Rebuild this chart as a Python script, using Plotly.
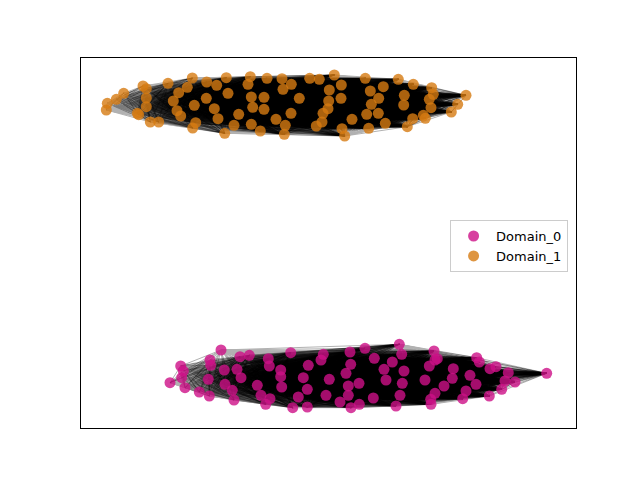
import plotly.graph_objects as go

# Node positions (x, y), per domain
domain0_x = [221, 210, 210.7, 180.7, 183.3, 181.7, 170, 185, 199.3, 209.3, 208.3, 224.3, 225, 232.3, 234,
             237, 241, 240, 249.3, 257.3, 261, 270, 265.7, 268.3, 269.3, 280.7, 280.7, 281.7, 290.7, 292.7,
             323.3, 321, 350, 350.7, 365, 374.3, 399.3, 401.7, 392.3, 384, 404, 386, 402.3, 400, 396,
             373.3, 359, 348.3, 346, 348.3, 340, 351, 359.3, 329.3, 326, 308.3, 303.3, 307.3, 298.3, 307.3,
             434, 437.3, 435, 429.3, 425, 453.3, 452.3, 444, 435, 430.7, 431, 476.7, 479.3, 490, 496,
             470, 476, 466, 462.7, 489.3, 508.3, 505, 515, 501.7, 546.7]
domain0_y = [350, 360, 365.3, 366, 371, 377.7, 382.7, 387.7, 392, 396, 379.3, 370, 384.3, 390.3, 400,
             369.3, 377.7, 356.7, 355.3, 385.3, 395.3, 398.7, 404.3, 358.7, 366, 370, 376.7, 387, 352.7, 407.7,
             354.3, 360, 352, 364.3, 348.3, 358.3, 344.3, 354.3, 362, 369.3, 371, 380, 383.3, 395.3, 406,
             398, 383.3, 386, 373.3, 395.3, 402, 407.7, 404.3, 379.3, 395.3, 365.3, 377.7, 389.3, 397, 407,
             351, 358.7, 360, 366, 380, 368.7, 378.3, 386, 393.3, 399.3, 404.3, 357.7, 362, 368.7, 366.7,
             375.3, 384.3, 391, 398.7, 396, 372.7, 381, 382, 389.3, 373.3]

domain1_x = [107.3, 106.3, 116.3, 123.7, 143, 146.3, 146.3, 146.3, 137.3, 138.7, 150.3, 158.7, 168, 178.7,
             173.3, 177, 180.7, 187.3, 192.3, 194.3, 192.7, 195.7, 206.7, 216.7, 206.3, 214.3, 218, 224.7,
             226.3, 228, 250.3, 248, 267, 282, 283, 291.3, 309.7, 319.3, 334.3, 341.3, 329.3, 341, 328.7,
             328, 323, 322, 316.3, 251.3, 264, 252.7, 264, 238.7, 234, 251.3, 260.3, 276, 285.3, 284.3,
             291, 299.3, 342, 344.7, 365.3, 398.3, 413.3, 431.7, 433.3, 429.3, 431, 466, 457.7, 451.3,
             370.3, 383.3, 378.7, 371.3, 404.3, 403.7, 366.7, 378.3, 352, 385.3, 368.7, 412.7, 423.3,
             425.3, 407.3]
domain1_y = [103.3, 110, 99.3, 93.3, 86, 88.7, 98, 106.7, 113.3, 114.7, 122, 122, 83.3, 92.7,
             101, 110.7, 116, 87.3, 78, 105.3, 128, 122.7, 82, 85.3, 98.3, 108.7, 118.7, 133.3,
             77.7, 93.3, 76.7, 84.3, 78.3, 78.7, 89.3, 84.3, 78.3, 79.3, 75, 85, 90, 98.3, 101,
             108.7, 113.3, 122, 126, 97, 97.3, 107.3, 109.3, 114.3, 125.3, 124.3, 131, 119.3, 125.3, 134.3,
             113.3, 98.3, 128.7, 136, 78.3, 79.3, 84.3, 87.7, 94.3, 99.3, 107.7, 95.3, 104.3, 112,
             91, 86.7, 98.3, 104.3, 95.3, 105, 114.3, 113.3, 119.3, 123.3, 128.3, 118.7, 115.3,
             118.3, 126.7]

domains = ["Domain_0", "Domain_1"]
colors = ["rgb(205,16,135)", "rgb(214,122,18)"]

fig = go.Figure()

# edges: every pair of nodes within a domain, one trace per source node so alpha accumulates
for xs, ys in [(domain0_x, domain0_y), (domain1_x, domain1_y)]:
    n = len(xs)
    for i in range(n - 1):
        ex, ey = [], []
        for j in range(i + 1, n):
            ex += [xs[i], xs[j], None]
            ey += [ys[i], ys[j], None]
        fig.add_trace(go.Scatter(x=ex, y=ey, mode="lines",
                                 line=dict(color="black", width=1),
                                 opacity=0.3, hoverinfo="skip", showlegend=False))

for name, xs, ys, c in zip(domains, [domain0_x, domain1_x], [domain0_y, domain1_y], colors):
    fig.add_trace(go.Scatter(x=xs, y=ys, mode="markers", name=name,
                             marker=dict(color=c, size=11, opacity=0.8, line=dict(width=0))))

axis_common = dict(showgrid=False, zeroline=False, showticklabels=False, ticks="",
                   showline=True, linecolor="black", linewidth=1, mirror=True)
fig.update_layout(
    width=640, height=480,
    margin=dict(l=73, r=72, t=50, b=60),
    plot_bgcolor="white", paper_bgcolor="white",
    xaxis=dict(range=[81, 576], **axis_common),
    yaxis=dict(range=[428, 58], **axis_common),
    legend=dict(x=0.984, y=0.562, xanchor="right", yanchor="top", itemwidth=35,
                bordercolor="#cccccc", borderwidth=1, bgcolor="rgba(255,255,255,0.8)",
                font=dict(family="DejaVu Sans", size=13, color="black")),
    font=dict(family="DejaVu Sans"),
)

fig.write_html("out.html")
